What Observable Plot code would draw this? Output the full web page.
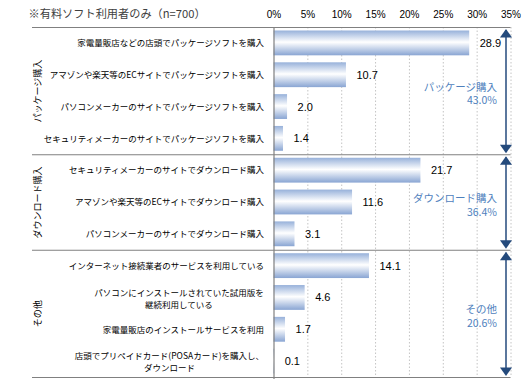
<!DOCTYPE html>
<html><head><meta charset="utf-8">
<script src="https://cdn.jsdelivr.net/npm/d3@7"></script>
<script src="https://cdn.jsdelivr.net/npm/@observablehq/plot@0.6"></script>
<style>
body{margin:0;background:#fff;}
#chart{width:531px;height:386px;}
</style></head><body><div id="chart"></div>
<script>
const title = "※有料ソフト利用者のみ（n=700）";
const categories = [
  "家電量販店などの店頭でパッケージソフトを購入",
  "アマゾンや楽天等のECサイトでパッケージソフトを購入",
  "パソコンメーカーのサイトでパッケージソフトを購入",
  "セキュリティメーカーのサイトでパッケージソフトを購入",
  "セキュリティメーカーのサイトでダウンロード購入",
  "アマゾンや楽天等のECサイトでダウンロード購入",
  "パソコンメーカーのサイトでダウンロード購入",
  "インターネット接続業者のサービスを利用している",
  "パソコンにインストールされていた試用版を\n継続利用している",
  "家電量販店のインストールサービスを利用",
  "店頭でプリペイドカード(POSAカード)を購入し、\nダウンロード"
];
const values = [28.9, 10.7, 2.0, 1.4, 21.7, 11.6, 3.1, 14.1, 4.6, 1.7, 0.1];
const groupNames = ["パッケージ購入", "ダウンロード購入", "その他"];
const groupSizes = [4, 3, 4];
const groupTotals = [43.0, 36.4, 20.6];
const xTicks = [0, 5, 10, 15, 20, 25, 30, 35];

const JP = "'Noto Sans CJK JP', 'Noto Sans', sans-serif";
const NUM = "'Liberation Sans Narrow', 'Arial Narrow', 'Liberation Sans', sans-serif";
const navy = "#244A7C";
const labelSize = 8.5;

const rows = categories.map((c, i) => ({label: c, value: values[i], row: i}));
let acc = 0;
const groups = groupNames.map((g, j) => {
  const start = acc; acc += groupSizes[j];
  return {name: g, total: groupTotals[j], start, end: acc};
});
const bounds = [0, ...groups.map(g => g.end)];
const xMax = xTicks[xTicks.length - 1];

const ctx = document.createElement("canvas").getContext("2d");
ctx.font = `${labelSize}px ${JP}`;
const widest = s => Math.max(...s.split("\n").map(l => ctx.measureText(l).width));

const single = rows.filter(d => !d.label.includes("\n"));
const multi = rows.filter(d => d.label.includes("\n"));

const headUp = {draw(c, size) { const r = Math.sqrt(size / Math.PI); c.moveTo(0, 0); c.lineTo(-1.4 * r, 2 * r); c.lineTo(1.4 * r, 2 * r); c.closePath(); }};

const chart = Plot.plot({
  width: 531, height: 386,
  marginTop: 27, marginBottom: 9, marginLeft: 32, marginRight: 20.5,
  x: {domain: [0, xMax], range: [273.5, 510.5]},
  y: {domain: [0, categories.length], reverse: true, axis: null},
  style: {fontFamily: JP, background: "#fff", color: "#000"},
  marks: [
    Plot.ruleX(xTicks.filter(t => t > 0), {stroke: "#c4c4c4", strokeDasharray: "1.5,2"}),
    Plot.rect(rows, {x1: 0, x2: "value", y1: "row", y2: d => d.row + 1, insetTop: 3.5, insetBottom: 3.5, fill: "url(#barGrad)"}),
    Plot.ruleX([0], {stroke: "#808080", strokeWidth: 1.2, insetBottom: -2}),
    Plot.ruleY(bounds, {stroke: "#808080", strokeWidth: 1.2}),
    Plot.text(rows, {x: "value", y: d => d.row + 0.5, text: d => d3.format(".1f")(d.value), textAnchor: "start", dx: 10, fontSize: 11, fontFamily: NUM, fill: "#000"}),
    Plot.text(single, {x: 0, y: d => d.row + 0.5, text: "label", textAnchor: "end", dx: -10, fontSize: labelSize, fill: "#000"}),
    ...multi.map(d => Plot.text([d], {x: 0, y: d.row + 0.5, text: "label", textAnchor: "middle", dx: -10 - widest(d.label) / 2, fontSize: labelSize, lineHeight: 1.4, fill: "#000"})),
    Plot.text(groups, {y: d => (d.start + d.end) / 2, frameAnchor: "left", textAnchor: "middle", dx: 6, rotate: -90, text: "name", fontSize: 9, fill: "#000"}),
    Plot.ruleX(groups, {x: xMax, y1: "start", y2: "end", dx: -5, insetTop: 3, insetBottom: 3, stroke: navy, strokeWidth: 1.5}),
    Plot.dot(groups, {x: xMax, y: "start", dx: -5, dy: 1.5, symbol: headUp, r: 4.3, fill: navy, stroke: "none"}),
    Plot.dot(groups, {x: xMax, y: "end", dx: -5, dy: -1.5, symbol: headUp, rotate: 180, r: 4.3, fill: navy, stroke: "none"}),
    Plot.text(groups, {x: xMax, y: d => (d.start + d.end) / 2, dx: -14, dy: 2, textAnchor: "end", text: d => d.name + "\n" + d.total.toFixed(1) + "%", fontSize: 10.5, lineHeight: 1.3, fill: "#4F81BD"}),
    Plot.axisX(xTicks, {anchor: "top", label: null, tickSize: 0, tickPadding: 10, tickFormat: d => d + "%", fontSize: 10, fontFamily: NUM, fill: "#000"}),
    Plot.text([title], {frameAnchor: "top-left", dx: -4, dy: -13, textAnchor: "start", lineAnchor: "middle", text: d => d, fontSize: 11.2, fill: "#404040"})
  ]
});

const svgNS = "http://www.w3.org/2000/svg";
const defs = document.createElementNS(svgNS, "defs");
const grad = document.createElementNS(svgNS, "linearGradient");
grad.setAttribute("id", "barGrad");
grad.setAttribute("x1", "0"); grad.setAttribute("y1", "0");
grad.setAttribute("x2", "0"); grad.setAttribute("y2", "1");
[["0", "#97B1DA"], ["0.47", "#FFFFFF"], ["1", "#89A5D3"]].forEach(([o, c]) => {
  const s = document.createElementNS(svgNS, "stop");
  s.setAttribute("offset", o); s.setAttribute("stop-color", c);
  grad.appendChild(s);
});
defs.appendChild(grad);
chart.insertBefore(defs, chart.firstChild);
document.getElementById("chart").appendChild(chart);
</script>
</body></html>
